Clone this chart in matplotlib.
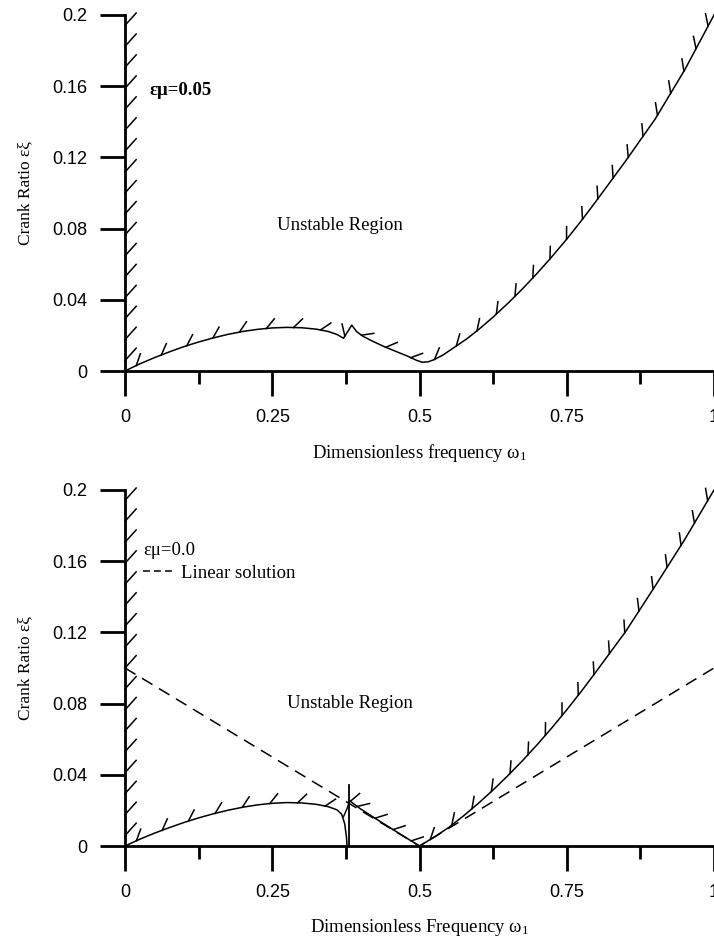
import numpy as np
import matplotlib
matplotlib.use("Agg")
import matplotlib.pyplot as plt
from matplotlib.patheffects import TickedStroke
from matplotlib.lines import Line2D

SERIF = "Liberation Serif"
SANS = "Liberation Sans"

plt.rcParams["mathtext.fontset"] = "custom"
plt.rcParams["mathtext.rm"] = SERIF
plt.rcParams["mathtext.it"] = SERIF + ":italic"
plt.rcParams["mathtext.bf"] = SERIF + ":bold"

# ----------------------------------------------------
# Axis ticks
# ----------------------------------------------------
x_ticks = [0, 0.25, 0.5, 0.75, 1.0]
x_tick_labels = ["0", "0.25", "0.5", "0.75", "1"]
x_minor_ticks = [0.125, 0.375, 0.625, 0.875]
y_ticks = [0, 0.04, 0.08, 0.12, 0.16, 0.2]
y_tick_labels = ["0", "0.04", "0.08", "0.12", "0.16", "0.2"]

# ----------------------------------------------------
# Upper panel: eps*mu = 0.05 (stability boundary)
# ----------------------------------------------------
top_w = [0, 0.025, 0.05, 0.075, 0.1, 0.125, 0.15, 0.175, 0.2, 0.225, 0.25,
         0.275, 0.3, 0.325, 0.345, 0.36, 0.371,
         0.385, 0.393, 0.404, 0.42, 0.44, 0.46, 0.48, 0.495, 0.505,
         0.515, 0.525, 0.54, 0.56, 0.58, 0.6, 0.625, 0.65, 0.675, 0.7,
         0.725, 0.75, 0.775, 0.8, 0.85, 0.9, 0.95, 1.0]
top_v = [0, 0.004, 0.0075, 0.0107, 0.0137, 0.0163, 0.0186, 0.0206, 0.0222, 0.0234, 0.0242,
         0.0245, 0.0243, 0.0235, 0.0222, 0.0205, 0.0184,
         0.0258, 0.0222, 0.0195, 0.0168, 0.0137, 0.011, 0.0083, 0.006, 0.0049,
         0.0052, 0.0064, 0.009, 0.0135, 0.018, 0.0232, 0.0303, 0.038, 0.0462, 0.055,
         0.0643, 0.0741, 0.0845, 0.0955, 0.118, 0.1415, 0.169, 0.2]

# ----------------------------------------------------
# Lower panel: eps*mu = 0.0
# ----------------------------------------------------
bot_left_w = [0, 0.025, 0.05, 0.075, 0.1, 0.125, 0.15, 0.175, 0.2, 0.225, 0.25,
              0.275, 0.3, 0.325, 0.345, 0.36, 0.368, 0.373, 0.376, 0.377]
bot_left_v = [0, 0.0038, 0.0072, 0.0103, 0.0132, 0.0158, 0.0181, 0.0201, 0.0218, 0.0231, 0.024,
              0.0244, 0.0242, 0.0234, 0.0221, 0.0203, 0.0178, 0.0125, 0.005, 0.0]

bot_join_w = [0.371, 0.377, 0.381]
bot_join_v = [0.0165, 0.021, 0.025]

bot_spike_w = [0.381, 0.381]
bot_spike_v = [0.0, 0.034]

bot_right_w = [0.381, 0.4, 0.425, 0.45, 0.475, 0.5,
               0.525, 0.55, 0.575, 0.6, 0.625, 0.65, 0.675, 0.7, 0.725, 0.75,
               0.775, 0.8, 0.85, 0.9, 0.95, 1.0]
bot_right_v = [0.0255, 0.0208, 0.0155, 0.0103, 0.0051, 0.0,
               0.005, 0.0105, 0.017, 0.024, 0.0315, 0.0395, 0.048, 0.057, 0.0665, 0.0765,
               0.087, 0.098, 0.1205, 0.146, 0.172, 0.2]

# linear solution (dashed)
lin_w = [0, 0.5, 1.0]
lin_v = [0.1, 0.0, 0.1]


def style_axes(ax, xlabel):
    ax.set_xlim(0, 1)
    ax.set_ylim(0, 0.2)
    for side in ["top", "right"]:
        ax.spines[side].set_visible(False)
    for side in ["left", "bottom"]:
        ax.spines[side].set_linewidth(2.0)
    ax.set_xticks(x_ticks)
    ax.set_xticklabels(x_tick_labels)
    ax.set_xticks(x_minor_ticks, minor=True)
    ax.set_yticks(y_ticks)
    ax.set_yticklabels(y_tick_labels)
    ax.tick_params(axis="both", which="major", direction="out",
                   length=18, width=2.0, pad=9, labelsize=13)
    ax.tick_params(axis="x", which="minor", direction="out",
                   length=9, width=2.0)
    for lab in ax.get_xticklabels() + ax.get_yticklabels():
        lab.set_fontfamily(SANS)
    ax.set_xlabel(xlabel, fontfamily=SERIF, fontsize=13.5, labelpad=12)
    ax.set_ylabel("Crank Ratio εξ", fontfamily=SERIF, fontsize=12.5, labelpad=14)
    ax.patch.set_visible(False)


def hatch(ax, w, v, spacing=18, angle=45, length=0.5, lw=1.1):
    ax.plot(w, v, color="k", lw=lw, clip_on=False,
            path_effects=[TickedStroke(spacing=spacing, angle=angle, length=length)])


def hatch_axis(ax):
    # hatching along the left boundary (y axis)
    ax.plot([0, 0], ax.get_ylim(), color="k", lw=1.1, clip_on=False,
            path_effects=[TickedStroke(spacing=15, angle=-42, length=0.8)])


fig = plt.figure(figsize=(7.14, 9.38), dpi=100)

# ---------------- upper panel ----------------
ax1 = fig.add_axes([125 / 714, 1 - 371 / 938, 589 / 714, 356 / 938])
style_axes(ax1, "Dimensionless frequency ω$_1$")

tw = np.array(top_w)
tv = np.array(top_v)
ax1.plot(tw, tv, color="k", lw=1.1, clip_on=False)
m = tw <= 0.505
hatch(ax1, tw[m], tv[m], angle=45)
m = tw >= 0.505
hatch(ax1, tw[m], tv[m], angle=40)
hatch_axis(ax1)

ax1.text(0.0424, 0.155, "εμ=0.05", fontfamily=SERIF, fontsize=13.5,
         fontweight="bold", va="baseline", ha="left")
ax1.text(0.258, 0.0792, "Unstable Region", fontfamily=SERIF, fontsize=13.5,
         va="baseline", ha="left")

# ---------------- lower panel ----------------
ax2 = fig.add_axes([125 / 714, 1 - 846 / 938, 589 / 714, 356 / 938])
style_axes(ax2, "Dimensionless Frequency ω$_1$")

ax2.plot(lin_w, lin_v, color="k", lw=1.1, ls=(0, (8, 5)), clip_on=False)

bw = np.array(bot_left_w)
bv = np.array(bot_left_v)
ax2.plot(bw, bv, color="k", lw=1.1, clip_on=False)
m = bw <= 0.365
hatch(ax2, bw[m], bv[m], angle=45)

ax2.plot(bot_join_w, bot_join_v, color="k", lw=1.0, clip_on=False)
ax2.plot(bot_spike_w, bot_spike_v, color="k", lw=1.3, clip_on=False)
hatch(ax2, bot_spike_w, [bot_spike_v[0] + 0.02, bot_spike_v[1]],
      spacing=12, angle=-50, length=0.8)

rw = np.array(bot_right_w)
rv = np.array(bot_right_v)
ax2.plot(rw, rv, color="k", lw=1.1, clip_on=False)
m = rw <= 0.5
hatch(ax2, rw[m], rv[m], spacing=14, angle=50, length=0.65)
m = rw >= 0.5
hatch(ax2, rw[m], rv[m], angle=40)
hatch_axis(ax2)

ax2.text(0.031, 0.1635, "εμ=0.0", fontfamily=SERIF, fontsize=13.5,
         va="baseline", ha="left")
ax2.text(0.275, 0.0775, "Unstable Region", fontfamily=SERIF, fontsize=13.5,
         va="baseline", ha="left")

proxy = Line2D([], [], color="k", lw=1.1, ls=(0, (4.5, 2.7)))
ax2.legend([proxy], ["Linear solution"], loc="center left",
           bbox_to_anchor=(0.0306, 0.767), frameon=False,
           prop={"family": SERIF, "size": 13.5},
           handlelength=1.55, handletextpad=0.5, borderpad=0, borderaxespad=0)

fig.savefig("out.png", dpi=100)
